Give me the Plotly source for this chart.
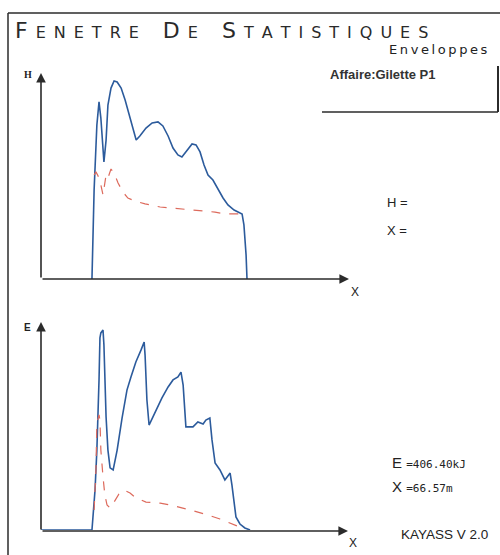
import plotly.graph_objects as go

# ---------------- data ----------------
# Top panel: H envelope (max, blue) and mean (red dashed) vs X (m)
h_max_x = [16.6, 17.3, 18.2, 18.9, 19.5, 20.2, 20.5, 21.2, 21.8, 22.8, 23.8, 24.8, 26.1, 27.4,
           29.0, 30.3, 31.0, 32.2, 34.2, 36.2, 38.1, 39.7, 41.4, 43.0, 44.6, 45.9, 47.6, 49.2,
           50.5, 51.8, 53.1, 54.4, 56.0, 57.7, 59.3, 60.9, 62.9, 65.5, 66.1, 66.8, 67.1]
h_max_y = [0.0, 43.6, 75.5, 86.8, 78.9, 63.2, 57.4, 68.1, 85.3, 93.6, 97.1, 96.6, 93.6, 87.7,
           78.9, 71.6, 68.1, 70.1, 74.0, 76.5, 77.0, 75.0, 70.1, 64.2, 60.8, 59.8, 63.2, 66.2,
           65.7, 62.3, 55.9, 51.0, 48.5, 43.6, 39.7, 36.3, 33.8, 31.9, 26.5, 11.8, 0.0]
h_mean_x = [17.3, 17.9, 18.6, 19.5, 20.2, 20.8, 21.2, 21.8, 22.8, 23.8, 25.1, 26.7, 28.3, 30.6,
            33.9, 38.8, 45.3, 51.8, 56.7, 59.9, 65.5]
h_mean_y = [51.0, 52.5, 50.5, 46.1, 41.2, 46.1, 51.0, 49.5, 53.9, 52.0, 47.1, 42.6, 39.7, 38.2,
            36.8, 35.3, 34.3, 33.3, 32.8, 31.9, 31.9]

# Bottom panel: E envelope (max, blue) and mean (red dashed) vs X (m)
e_max_x = [0.0, 16.6, 17.6, 18.2, 18.9, 19.2, 19.5, 20.2, 20.5, 21.2, 21.8, 22.5, 23.5, 24.8,
           26.4, 28.0, 29.3, 30.9, 32.6, 33.6, 33.9, 34.5, 35.2, 37.1, 39.4, 41.4, 43.0, 44.6,
           45.6, 46.3, 47.2, 49.5, 51.1, 52.8, 53.7, 55.0, 55.7, 56.7, 58.3, 59.9, 61.6, 62.2,
           63.5, 64.8, 66.4, 68.1]
e_max_y = [0.0, 0.0, 19.3, 38.6, 72.5, 92.8, 95.2, 96.6, 89.4, 54.6, 38.6, 30.0, 29.0, 38.6,
           54.1, 67.6, 73.9, 81.2, 87.0, 90.8, 84.5, 62.8, 50.7, 57.0, 63.8, 69.1, 72.5, 73.9,
           76.3, 70.0, 49.8, 49.8, 52.2, 51.2, 53.1, 54.1, 43.5, 32.4, 29.0, 24.2, 27.5, 21.7,
           6.3, 2.9, 1.0, 0.0]
e_mean_x = [17.3, 17.9, 18.2, 18.9, 19.2, 19.5, 20.2, 20.8, 21.5, 22.5, 23.8, 25.4, 27.0, 29.0,
            30.9, 34.2, 38.8, 43.6, 48.5, 53.4, 58.3, 62.2, 64.8]
e_mean_y = [9.7, 29.0, 51.7, 55.6, 53.1, 38.6, 25.6, 16.9, 12.1, 10.6, 13.5, 17.4, 19.3, 17.9,
            15.5, 13.5, 13.0, 11.6, 9.7, 7.7, 5.3, 2.9, 1.4]

title_text = "FENETRE DE STATISTIQUES"
subtitle_text = "Enveloppes"
affaire_text = "Affaire:Gilette P1"
h_readout = ["H =", "X ="]
e_value = "406.40kJ"
x_value = "66.57m"
version_text = "KAYASS V 2.0"

# ---------------- layout helpers ----------------
W, H = 500, 555
def px(x):
    return x / W
def py(y):
    return 1 - y / H

BLUE = "#2c5b9c"
RED = "#dd6a5c"
AX = "#2b2b2b"

fig = go.Figure()
fig.add_trace(go.Scatter(x=h_max_x, y=h_max_y, mode="lines", line=dict(color=BLUE, width=1.6),
                         xaxis="x", yaxis="y", showlegend=False))
fig.add_trace(go.Scatter(x=h_mean_x, y=h_mean_y, mode="lines",
                         line=dict(color=RED, width=1.2, dash="dash"),
                         xaxis="x", yaxis="y", showlegend=False))
fig.add_trace(go.Scatter(x=e_max_x, y=e_max_y, mode="lines", line=dict(color=BLUE, width=1.6),
                         xaxis="x2", yaxis="y2", showlegend=False))
fig.add_trace(go.Scatter(x=e_mean_x, y=e_mean_y, mode="lines",
                         line=dict(color=RED, width=1.2, dash="dash"),
                         xaxis="x2", yaxis="y2", showlegend=False))

hidden = dict(showgrid=False, zeroline=False, showticklabels=False, ticks="", showline=False)
fig.update_layout(
    width=W, height=H, margin=dict(l=0, r=0, t=0, b=0),
    paper_bgcolor="white", plot_bgcolor="rgba(0,0,0,0)",
    xaxis=dict(domain=[px(41), px(348)], range=[0, 100], anchor="y", **hidden),
    yaxis=dict(domain=[py(279), py(75)], range=[0, 100], anchor="x", **hidden),
    xaxis2=dict(domain=[px(41), px(348)], range=[0, 100], anchor="y2", **hidden),
    yaxis2=dict(domain=[py(530), py(323)], range=[0, 100], anchor="x2", **hidden),
    font=dict(family="DejaVu Sans", color="#222"),
)

# frame / box lines
shapes = []
def line(x0, y0, x1, y1, w=1.5, c=AX):
    shapes.append(dict(type="line", xref="paper", yref="paper", x0=px(x0), y0=py(y0),
                       x1=px(x1), y1=py(y1), line=dict(color=c, width=w)))
line(8, 13, 500, 13)
line(8, 13, 8, 555)
line(322, 112, 498, 112)
line(498, 66, 498, 112, w=2)
fig.update_layout(shapes=shapes)

ann = []
def arrow(x0, y0, x1, y1):
    ann.append(dict(xref="paper", yref="paper", x=px(x1), y=py(y1), ax=x0 - x1, ay=y0 - y1,
                    axref="pixel", ayref="pixel", showarrow=True, arrowhead=2, arrowsize=1.2,
                    arrowwidth=1.6, arrowcolor=AX, text=""))
# axes with arrowheads
arrow(41, 279, 41, 73)
arrow(41, 279, 349, 279)
arrow(41, 531, 41, 322)
arrow(41, 531, 348, 531)

def text(x, y, s, size, anchor="left", family="DejaVu Sans", color="#222", yanchor="middle"):
    ann.append(dict(xref="paper", yref="paper", x=px(x), y=py(y), text=s, showarrow=False,
                    xanchor=anchor, yanchor=yanchor, font=dict(size=size, family=family, color=color)))

# title in small caps with spaced letters
def small_caps(word, big=22, small=16):
    out = []
    for i, ch in enumerate(word):
        sz = big if i == 0 else small
        out.append(f"<span style='font-size:{sz}px'>{ch}</span>")
    return "\u2002".join(out)
title_html = "\u2003\u2002".join(small_caps(w) for w in title_text.split(" "))
text(13, 30, title_html, 16, family="DejaVu Sans", color="#2a2a2a")
text(490, 50, "\u2009".join(subtitle_text), 13, anchor="right", family="DejaVu Sans")
text(328, 75, "<b>" + affaire_text + "</b>", 13, family="Liberation Sans", color="#333")

# axis labels
text(22, 75, "<b>H</b>", 10, family="Liberation Serif")
text(22, 327, "<b>E</b>", 10, family="Liberation Sans")
text(349, 292, "X", 12, family="Liberation Sans")
text(347, 543, "X", 12, family="Liberation Sans")

# readouts
text(385, 202, h_readout[0], 13, family="Liberation Sans")
text(385, 231, h_readout[1], 13, family="Liberation Sans")
text(390, 462, "E <span style='font-size:11px; font-family:DejaVu Sans Mono'>=" + e_value + "</span>",
     15, family="Liberation Sans")
text(390, 486, "X <span style='font-size:11px; font-family:DejaVu Sans Mono'>=" + x_value + "</span>",
     15, family="Liberation Sans")
text(490, 534, version_text, 13.5, anchor="right", family="Liberation Sans Narrow, Liberation Sans")

fig.update_layout(annotations=ann)
fig.write_html("out.html", config={"displayModeBar": False})

# remove the browser's default body margin so the figure sits at the page origin
with open("out.html", "r", encoding="utf-8") as f:
    html = f.read()
html = html.replace("<head>", "<head><style>html,body{margin:0;padding:0;overflow:hidden;}</style>", 1)
with open("out.html", "w", encoding="utf-8") as f:
    f.write(html)
